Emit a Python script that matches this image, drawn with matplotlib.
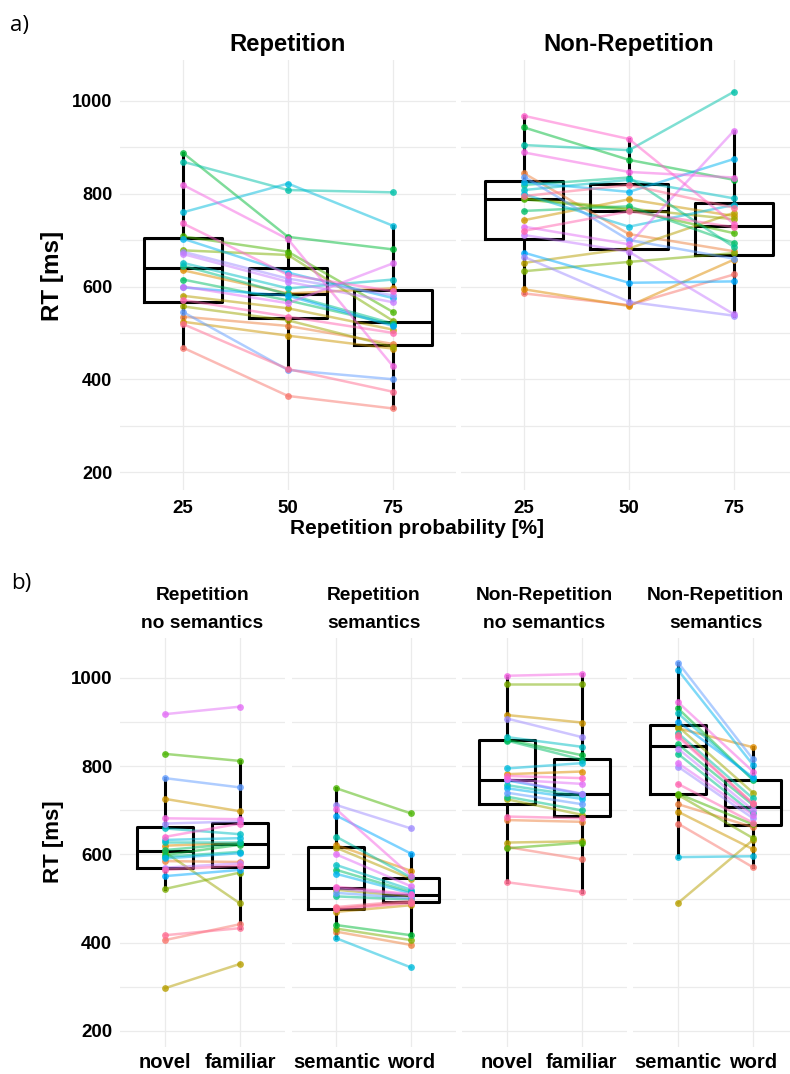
import numpy as np
import matplotlib
matplotlib.use("Agg")
import matplotlib.pyplot as plt

# mean RT (ms) per participant, participants ordered by palette hue
rep_25 = [468, 535, 635, 524, 580, 557, 678, 708, 888, 615, 645, 869, 651, 760, 703, 598, 545, 675, 670, 600, 819, 736, 571, 519]
rep_50 = [364, 515, 585, 494, 553, 527, 668, 675, 707, 570, 583, 808, 596, 822, 630, 580, 420, 617, 610, 564, 702, 625, 535, 422]
rep_75 = [337, 476, 596, 466, 507, 470, 526, 545, 680, 518, 520, 803, 615, 731, 575, 515, 400, 581, 566, 650, 428, 590, 500, 373]

nonrep_25 = [585, 844, 594, 743, 651, 790, 633, 788, 943, 763, 819, 905, 808, 799, 825, 673, 837, 664, 711, 729, 889, 968, 720, 795]
nonrep_50 = [560, 713, 558, 788, 682, 768, 653, 765, 873, 773, 835, 894, 830, 729, 804, 608, 700, 567, 675, 691, 847, 918, 762, 819]
nonrep_75 = [626, 676, 658, 752, 759, 745, 672, 715, 830, 694, 685, 1020, 790, 776, 875, 611, 660, 537, 540, 936, 835, 735, 728, 770]

rns_novel = [406, 585, 620, 726, 297, 605, 522, 828, 599, 610, 595, 629, 659, 633, 591, 551, 773, 670, 570, 918, 682, 640, 565, 417]
rns_familiar = [442, 583, 626, 698, 352, 489, 559, 812, 622, 625, 606, 629, 646, 637, 603, 565, 752, 675, 580, 935, 680, 670, 575, 433]

rs_semantic = [478, 425, 621, 470, 615, 520, 432, 750, 440, 565, 505, 640, 576, 410, 556, 688, 513, 712, 523, 600, 702, 527, 476, 481]
rs_word = [492, 395, 563, 485, 545, 505, 406, 693, 417, 515, 498, 548, 520, 344, 512, 602, 501, 659, 508, 528, 552, 510, 490, 495]

nrns_novel = [617, 678, 782, 916, 627, 725, 986, 614, 860, 858, 731, 757, 866, 795, 750, 768, 740, 908, 770, 770, 1005, 778, 686, 537]
nrns_familiar = [589, 674, 788, 899, 630, 690, 986, 627, 825, 815, 700, 732, 844, 807, 726, 737, 714, 866, 738, 760, 1009, 773, 682, 515]

nrs_semantic = [670, 714, 886, 697, 490, 890, 735, 738, 931, 850, 828, 875, 920, 594, 1018, 901, 1035, 799, 840, 807, 945, 866, 760, 870]
nrs_word = [571, 662, 843, 612, 633, 740, 637, 668, 769, 712, 693, 727, 770, 596, 803, 775, 816, 682, 701, 690, 788, 715, 672, 716]

prob_labels = ["25", "50", "75"]
nov_labels = ["novel", "familiar"]
sem_labels = ["semantic", "word"]


def hue_pal(n, c=100.0, l=65.0):
    # ggplot2 default discrete palette (polar Luv -> sRGB)
    h = np.deg2rad(np.linspace(15, 375, n + 1)[:n])
    u = c * np.cos(h)
    v = c * np.sin(h)
    xn, yn, zn = 95.047, 100.0, 108.883
    un = 4 * xn / (xn + 15 * yn + 3 * zn)
    vn = 9 * yn / (xn + 15 * yn + 3 * zn)
    y = yn * ((l + 16) / 116) ** 3
    up = u / (13 * l) + un
    vp = v / (13 * l) + vn
    x = y * 9 * up / (4 * vp)
    z = y * (12 - 3 * up - 20 * vp) / (4 * vp)
    xyz = np.vstack([x, np.full_like(x, y), z]) / 100
    m = np.array([[3.2404542, -1.5371385, -0.4985314],
                  [-0.9692660, 1.8760108, 0.0415560],
                  [0.0556434, -0.2040259, 1.0572252]])
    rgb = m @ xyz
    rgb = np.where(rgb > 0.0031308, 1.055 * np.clip(rgb, 0, None) ** (1 / 2.4) - 0.055, 12.92 * rgb)
    return np.clip(rgb.T, 0, 1)


plt.rcParams['font.family'] = ['Liberation Sans', 'DejaVu Sans']
plt.rcParams['font.weight'] = 'bold'

cols = hue_pal(len(rep_25))

W, H = 790, 1074
fig = plt.figure(figsize=(W / 100, H / 100), dpi=100)


def add_panel(left, right, top, bottom):
    return fig.add_axes([left / W, 1 - bottom / H, (right - left) / W, (bottom - top) / H])


def facet(ax, conds, labels, ylim, first, xfs, yfs, xpad):
    n = len(conds)
    pos = np.arange(1, n + 1)
    blk = dict(color='black', lw=2.2)
    ax.boxplot(conds, positions=pos, widths=0.75, whis=1.5, showfliers=False, showcaps=False,
               boxprops=blk, whiskerprops=blk, medianprops=blk, zorder=2)
    data = np.array(conds)
    for i in range(data.shape[1]):
        ax.plot(pos, data[:, i], color=cols[i], lw=1.8, alpha=0.5, zorder=3)
        ax.scatter(pos, data[:, i], color=cols[i], s=24, alpha=0.8, lw=0, zorder=4)
    ax.set_xlim(0.4, n + 0.6)
    ax.set_ylim(*ylim)
    ax.set_xticks(pos, labels)
    ax.set_yticks([200, 400, 600, 800, 1000])
    ax.set_yticks([300, 500, 700, 900], minor=True)
    ax.grid(True, which='both', color='#ebebeb', lw=0.9)
    ax.set_axisbelow(True)
    for s in ax.spines.values():
        s.set_visible(False)
    ax.tick_params(which='both', length=0)
    ax.tick_params(axis='y', pad=5.5, labelsize=yfs)
    ax.tick_params(axis='x', pad=xpad, labelsize=xfs)
    if not first:
        ax.tick_params(labelleft=False)


# panel a
ylim_a = (161.2, 1088.4)
ax1 = add_panel(120, 456, 60, 490)
facet(ax1, [rep_25, rep_50, rep_75], prob_labels, ylim_a, True, 13.5, 13, 7)
ax2 = add_panel(461, 797, 60, 490)
facet(ax2, [nonrep_25, nonrep_50, nonrep_75], prob_labels, ylim_a, False, 13.5, 13, 7)

# panel b
ylim_b = (163.7, 1090.6)
b_edges = [(120, 285), (291.7, 455.7), (462.3, 626.7), (633, 798)]
b_data = [[rns_novel, rns_familiar], [rs_semantic, rs_word],
          [nrns_novel, nrns_familiar], [nrs_semantic, nrs_word]]
b_labels = [nov_labels, sem_labels, nov_labels, sem_labels]
b_titles = [("Repetition", "no semantics"), ("Repetition", "semantics"),
            ("Non-Repetition", "no semantics"), ("Non-Repetition", "semantics")]
for k in range(4):
    l, r = b_edges[k]
    ax = add_panel(l, r, 638, 1047)
    facet(ax, b_data[k], b_labels[k], ylim_b, k == 0, 14.5, 13.5, 4)
    cx = (l + r) / 2 / W
    fig.text(cx, 1 - 595.7 / H, b_titles[k][0], ha='center', va='center', fontsize=13.8)
    fig.text(cx, 1 - 623.3 / H, b_titles[k][1], ha='center', va='center', fontsize=13.8)

# titles and labels
fig.text(288 / W, 1 - 45 / H, "Repetition", ha='center', va='center', fontsize=17.2)
fig.text(629 / W, 1 - 45 / H, "Non-Repetition", ha='center', va='center', fontsize=17.2)
fig.text(417 / W, 1 - 529 / H, "Repetition probability [%]", ha='center', va='center', fontsize=15)
fig.text(53 / W, 1 - 276 / H, "RT [ms]", ha='center', va='center', rotation=90, fontsize=17.5)
fig.text(53 / W, 1 - 842 / H, "RT [ms]", ha='center', va='center', rotation=90, fontsize=16)
fig.text(10 / W, 1 - 25 / H, "a)", ha='left', va='center', fontsize=16,
         fontweight='normal', family=['Open Sans', 'DejaVu Sans'])
fig.text(11 / W, 1 - 584 / H, "b)", ha='left', va='center', fontsize=16,
         fontweight='normal', family=['Open Sans', 'DejaVu Sans'])

fig.savefig("out.png", dpi=100, facecolor='white')
